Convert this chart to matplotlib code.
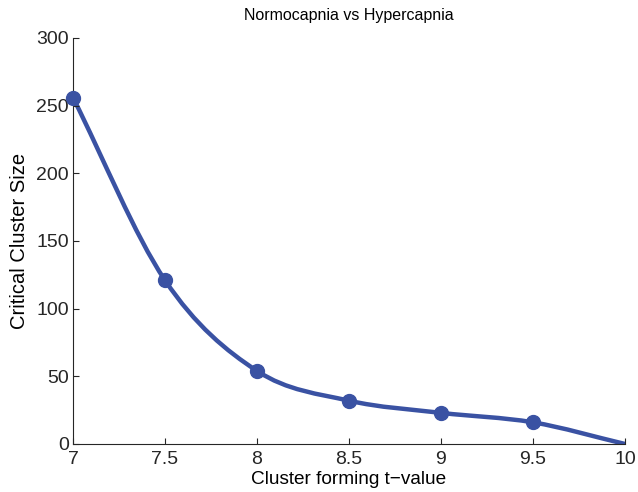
import matplotlib
matplotlib.use('Agg')
import matplotlib.pyplot as plt
from matplotlib.path import Path
from matplotlib.patches import PathPatch
import numpy as np

plt.rcParams.update({
    'font.family': ['Liberation Sans', 'DejaVu Sans'],
    'font.size': 13,
    'axes.linewidth': 0.8,
    'xtick.direction': 'in',
    'ytick.direction': 'in',
})

# ── Data ────────────────────────────────────────────────────────────
t_values = [7, 7.5, 8, 8.5, 9, 9.5, 10]
cluster_size = [256, 121, 54, 32, 23, 16, 0]
# the last point (t = 10) has no marker
marked = 6

x_ticks = [7, 7.5, 8, 8.5, 9, 9.5, 10]
x_ticklabels = ['7', '7.5', '8', '8.5', '9', '9.5', '10']
y_ticks = [0, 50, 100, 150, 200, 250, 300]

color = '#3a52a3'

fig = plt.figure(figsize=(6.38, 4.92), dpi=100)
ax = fig.add_axes([0.1144, 0.0976, 0.8652, 0.8252])

# smooth curve through the points: Catmull-Rom segments as cubic Beziers
pts = np.column_stack([t_values, cluster_size]).astype(float)
padded = np.vstack([2 * pts[0] - pts[1], pts, 2 * pts[-1] - pts[-2]])
verts = [pts[0]]
codes = [Path.MOVETO]
for i in range(len(pts) - 1):
    p0, p1, p2, p3 = padded[i], padded[i + 1], padded[i + 2], padded[i + 3]
    verts += [p1 + (p2 - p0) / 6, p2 - (p3 - p1) / 6, p2]
    codes += [Path.CURVE4] * 3
ax.add_patch(PathPatch(Path(verts, codes), facecolor='none', edgecolor=color,
                       lw=3.2, capstyle='round', joinstyle='round'))
ax.plot(t_values[:marked], cluster_size[:marked], 'o', color=color,
        markersize=10, clip_on=False, zorder=3)

ax.set_xlim(7, 10)
ax.set_ylim(0, 300)
ax.set_xticks(x_ticks)
ax.set_xticklabels(x_ticklabels)
ax.set_yticks(y_ticks)
ax.tick_params(length=4, width=0.8, colors='#262626', labelsize=14, pad=3)
ax.tick_params(axis='x', pad=5)
ax.spines['top'].set_visible(False)
ax.spines['right'].set_visible(False)
for s in ('left', 'bottom'):
    ax.spines[s].set_color('#262626')

ax.set_xlabel('Cluster forming t\u2212value', fontsize=13.7, labelpad=2)
ax.set_ylabel('Critical Cluster Size', fontsize=14.5, labelpad=5)
ax.set_title('Normocapnia vs Hypercapnia', fontsize=11.5, pad=13)

fig.savefig('out.png', dpi=100, facecolor='white')
